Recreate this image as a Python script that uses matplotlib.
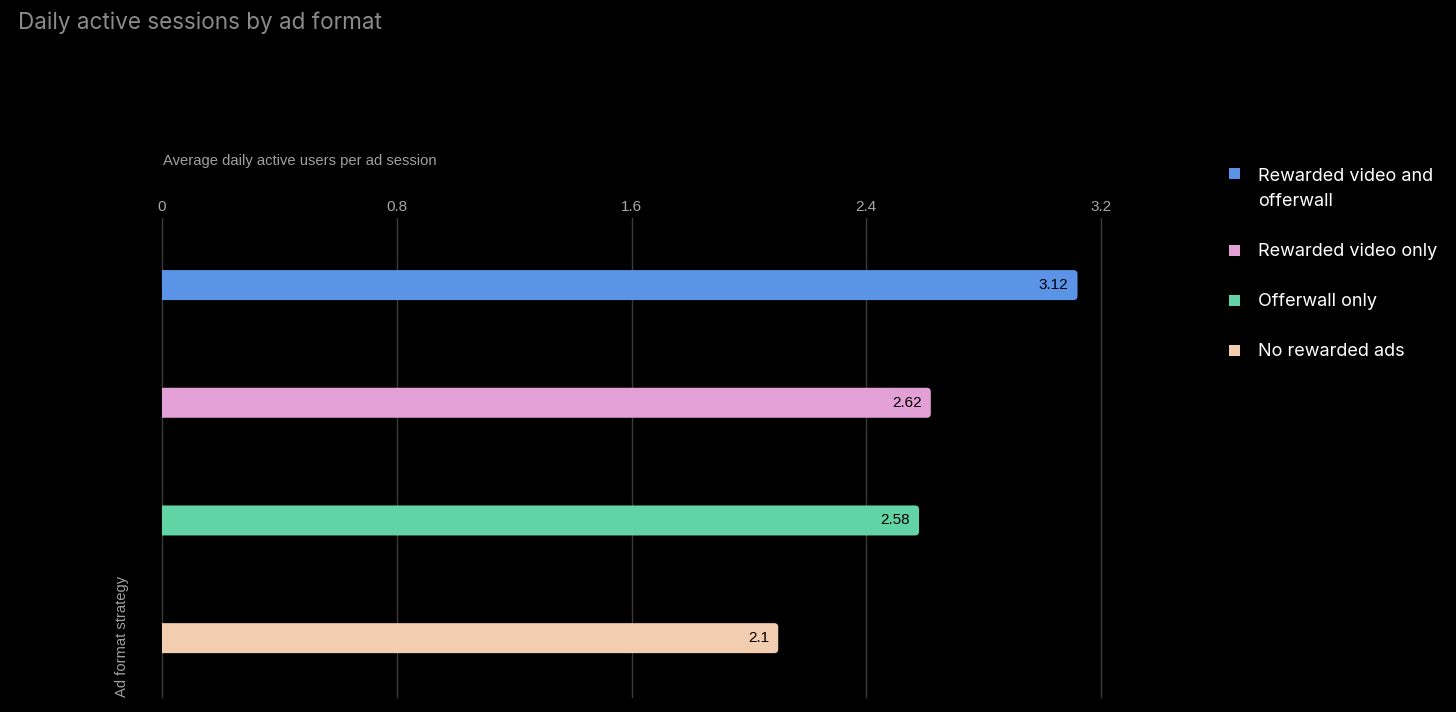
import numpy as np
import matplotlib.pyplot as plt
from matplotlib.patches import FancyBboxPatch, Rectangle

# data
categories = ['Rewarded video and offerwall', 'Rewarded video only', 'Offerwall only', 'No rewarded ads']
legend_labels = ['Rewarded video and\nofferwall', 'Rewarded video only', 'Offerwall only', 'No rewarded ads']
values = [3.12, 2.62, 2.58, 2.1]
colors = ['#5b93e6', '#e3a0d6', '#62d3a4', '#f2cdb0']
xticks = [0, 0.8, 1.6, 2.4, 3.2]
xtick_labels = ['0', '0.8', '1.6', '2.4', '3.2']

W, H = 1456, 712
fig = plt.figure(figsize=(W / 100, H / 100), dpi=100, facecolor='black')
ax = fig.add_axes([162 / W, 15 / H, (1101 - 162) / W, (697 - 218) / H])
ax.set_facecolor('black')

ax.set_xlim(0, 3.2)
ax.set_ylim(3.5, -0.57)

# grid
for t in xticks:
    ax.axvline(t, color='#3a3a3a', lw=1, zorder=0, clip_on=False)

bar_h = 0.255
px_x = 3.2 / (1101 - 162)
px_y = 4.07 / (697 - 218)
for i, (v, c) in enumerate(zip(values, colors)):
    r = 4 * px_x
    # start left of the axis so the left corners get clipped away (square)
    box = FancyBboxPatch((-0.05, i - bar_h / 2), v + 0.05, bar_h,
                         boxstyle='round,pad=0,rounding_size=%f' % r,
                         mutation_aspect=px_y / px_x,
                         fc=c, ec='none', zorder=2)
    ax.add_patch(box)
    ax.text(v - 9 * px_x, i, str(v), ha='right', va='center', fontsize=11,
            color='black', family='Liberation Sans', zorder=3)

ax.set_yticks([])
ax.xaxis.tick_top()
ax.set_xticks(xticks)
ax.set_xticklabels(xtick_labels, family='Liberation Sans', fontsize=11, color='#a8a8a8')
ax.tick_params(axis='x', length=0, pad=3)
for s in ax.spines.values():
    s.set_visible(False)

fig.text(163 / W, 1 - 161 / H, 'Average daily active users per ad session', ha='left', va='center',
         family='Liberation Sans', fontsize=10.6, color='#a0a0a0')
fig.text(122 / W, 15 / H, 'Ad format strategy', rotation=90, ha='center', va='bottom',
         family='Liberation Sans', fontsize=10.6, color='#a0a0a0')

fig.text(18 / W, 1 - 23 / H, 'Daily active sessions by ad format', ha='left', va='center',
         family='Inter', fontsize=16.2, color='#8a8a8a')

# legend
leg_y = [189, 252, 302, 352]
sq_y = [173, 250, 300, 350]
for lab, c, ty, sy in zip(legend_labels, colors, leg_y, sq_y):
    fig.patches.append(Rectangle((1229 / W, 1 - (sy + 5.5) / H), 11 / W, 11 / H,
                                 transform=fig.transFigure, fc=c, ec='none'))
    fig.text(1258 / W, 1 - ty / H, lab, ha='left', va='center', family='Inter',
             fontsize=13, color='white', linespacing=1.65)

fig.savefig('out.png', dpi=100, facecolor='black')
